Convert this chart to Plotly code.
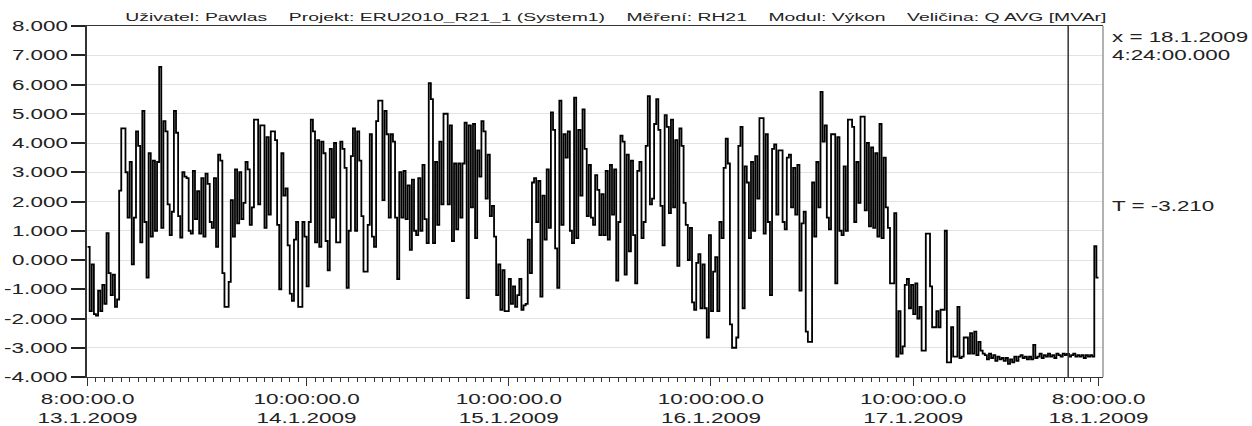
import pandas as pd
import plotly.graph_objects as go

# Q AVG [MVAr], 15-minute averages, one list per calendar day
q_13jan = [  # 08:00 - 23:45
    0.45, -1.75, -0.15, -1.85, -1.9, -1.05, -1.75, -0.85, -1.5, 0.92,
    -0.45, -1.2, -0.5, -1.6, -1.35, 2.37, 4.5, 4.5, 3.0, 1.45,
    3.35, -0.15, 1.45, 4.4, 3.9, 0.6, 5.1, 1.3, -0.6, 3.65,
    0.8, 3.4, 1.0, 3.35, 6.6, 1.1, 4.75, 4.4, 1.9, 0.85,
    1.65, 5.1, 4.35, 1.5, 0.77, 3.0, 2.85, 2.8, 1.0, 0.9,
    3.05, 1.4, 2.35, 0.9, 2.8, 0.8, 2.95, 2.6, 1.3, 1.1,
    2.8, 0.45, 3.6, 3.4,
]
q_14jan = [
    -0.45, -1.6, -1.6, -0.75, 2.05, 0.8, 3.1, 1.25, 3.0, 1.4,
    1.95, 3.35, 3.1, 1.2, 1.8, 4.8, 4.8, 1.9, 4.6, 4.6,
    1.1, 4.2, 1.55, 4.4, 4.4, 4.1, 1.2, -1.0, 3.65, 2.2,
    2.45, 0.5, -1.15, -1.4, 0.7, 1.3, -1.6, -1.6, 1.3, 0.8,
    -0.9, 1.3, 4.8, 4.4, 0.6, 4.1, 0.45, 4.05, 3.65, 0.65,
    -0.35, 3.8, 1.45, 4.0, 0.6, 0.6, 4.05, 3.8, 3.15, -0.95,
    1.0, 3.55, 4.5, 1.0, 4.4, 3.4, 1.5, -0.4, -0.4, 1.2,
    4.3, 0.8, 0.45, 4.75, 5.45, 5.45, 2.05, 5.1, 4.3, 1.45,
    4.3, 4.05, 1.45, -0.65, 3.0, 1.45, 3.05, 1.4, 2.55, 0.35,
    2.75, 1.0, 0.85, 2.8, 1.0, 3.25,
]
q_15jan = [
    1.4, 0.58, 6.05, 5.5, 0.58, 3.35, 1.2, 4.05, 1.9, 5.0,
    5.0, 1.9, 4.6, 0.65, 3.3, 1.05, 3.3, 1.45, 3.3, 4.7,
    -1.3, 4.6, 1.8, 4.65, 0.75, 3.75, 2.85, 4.75, 4.4, 2.1,
    3.6, 1.5, 1.85, 0.8, -1.2, -0.15, -1.7, -0.35, -1.75, -1.75,
    -0.65, -1.5, -0.9, -1.6, -1.2, -0.65, -1.7, -1.55, -1.5, 0.7,
    -0.45, 2.65, 2.8, 1.3, 2.7, -1.25, 2.2, 0.7, 3.1, 1.1,
    5.05, 4.45, 0.4, -0.95, 5.45, 1.2, 4.3, 3.5, 4.4, 1.0,
    0.58, 5.55, 0.75, 4.45, 2.2, 5.15, 3.8, 1.5, 3.25, 1.45,
    1.2, 2.9, 2.4, 0.85, 2.25, 0.85, 3.05, 0.7, 3.25, 1.55,
    3.1, -0.7, 1.3, 4.25, 4.05, -0.5,
]
q_16jan = [
    3.6, 0.3, 3.4, 0.85, -0.8, 3.05, 3.35, 0.75, 1.3, 3.9,
    5.6, 1.9, 2.1, 4.65, 5.5, 4.45, 1.85, 0.5, 4.95, 4.55,
    1.6, 4.8, 1.8, 4.1, -0.2, 4.5, 3.9, 1.95, 1.2, 0.0,
    1.1, -1.45, -1.7, -0.1, 0.2, -1.65, -0.15, -1.65, -2.65, 0.85,
    -1.75, -0.4, 0.1, -1.75, 1.3, 0.75, 3.15, 4.15, 3.3, -2.2,
    -3.0, -3.0, -2.65, 3.9, 4.55, -1.65, 3.2, 2.65, 0.75, 3.35,
    1.0, 3.55, 2.1, 4.85, 4.85, 0.9, 4.3, 1.3, -1.2, 3.8,
    3.95, 1.55, 3.75, 3.75, 1.3, 1.05, 3.5, 3.6, 1.8, 3.15,
    1.55, 3.25, -1.05, 1.25, 1.65, -2.45, -2.8, -2.8, 2.65, 0.8,
    3.35, 1.8, 5.75, 4.05, 4.6, 1.45,
]
q_17jan = [
    1.05, 4.3, 4.3, -0.8, 4.2, 1.0, 0.85, 3.2, 1.0, 4.8,
    4.8, 4.55, 1.3, 3.35, 1.95, 4.9, 4.9, 1.7, 4.0, 1.15,
    3.85, 1.1, 3.65, 0.8, 4.65, 0.75, 3.5, 1.8, 1.1, -0.8,
    -0.8, 1.6, -3.3, -1.75, -3.2, -2.95, -0.85, -0.65, -1.65, -0.85,
    -1.85, -0.8, -2.0, -1.6, -3.1, -3.1, 0.9, 0.9, -0.9, -2.3,
    -2.3, -1.75, -2.3, -1.7, -1.7, 1.0, -3.5, -3.5, -2.3, -3.3,
    -3.3, -1.6, -3.35, -3.3, -2.65, -2.65, -3.2, -2.5, -3.2, -2.45,
    -3.25, -2.8, -3.1, -3.2, -3.25, -3.4, -3.2, -3.35, -3.25, -3.45,
    -3.3, -3.4, -3.35, -3.45, -3.35, -3.55, -3.4, -3.5, -3.3, -3.45,
    -3.3, -3.25, -3.35, -3.3, -3.4, -3.3,
]
q_18jan = [  # 00:00 - 08:00
    -3.4, -2.9, -3.35, -3.3, -3.2, -3.35, -3.25, -3.3, -3.2, -3.3,
    -3.25, -3.35, -3.2, -3.25, -3.3, -3.2, -3.25, -3.21, -3.3, -3.25,
    -3.2, -3.3, -3.25, -3.3, -3.25, -3.35, -3.25, -3.3, -3.25, -3.3,
    0.47, -0.6, -0.6,
]

series_start = pd.Timestamp("2009-01-13 08:00")
cursor_time = pd.Timestamp("2009-01-18 04:24")

y_tick_values = [8, 7, 6, 5, 4, 3, 2, 1, 0, -1, -2, -3, -4]
y_tick_labels = ["8.000", "7.000", "6.000", "5.000", "4.000", "3.000", "2.000",
                 "1.000", "0.000", "-1.000", "-2.000", "-3.000", "-4.000"]
x_tick_times = ["2009-01-13 08:00", "2009-01-14 10:00", "2009-01-15 10:00",
                "2009-01-16 10:00", "2009-01-17 10:00", "2009-01-18 08:00"]
x_tick_labels = ["8:00:00.0<br>13.1.2009", "10:00:00.0<br>14.1.2009",
                 "10:00:00.0<br>15.1.2009", "10:00:00.0<br>16.1.2009",
                 "10:00:00.0<br>17.1.2009", "8:00:00.0<br>18.1.2009"]

header_parts = ["Uživatel: Pawlas", "Projekt: ERU2010_R21_1 (System1)", "Měření: RH21",
                "Modul: Výkon", "Veličina: Q AVG [MVAr]"]

q = q_13jan + q_14jan + q_15jan + q_16jan + q_17jan + q_18jan
step = pd.Timedelta("15min")
times = pd.date_range(series_start, periods=len(q), freq=step)

# value under the cursor
cursor_idx = int((cursor_time - series_start) / step)
cursor_value = q[cursor_idx]
cursor_text = (f"x = {cursor_time.day}.{cursor_time.month}.{cursor_time.year}<br>"
               f"{cursor_time.hour}:{cursor_time.minute:02d}:{cursor_time.second:02d}.000")
value_text = f"T = {cursor_value:.3f}"

hourly = pd.date_range(series_start, times[-1], freq="h")

fig = go.Figure(
    go.Scatter(
        x=times, y=q, mode="lines",
        line=dict(color="#000000", width=1.8, shape="hv"),
        hoverinfo="skip",
    )
)

fig.update_layout(
    width=1252, height=426,
    margin=dict(l=87, r=149, t=26, b=49, autoexpand=False),
    paper_bgcolor="white", plot_bgcolor="white",
    showlegend=False,
    font=dict(family="Liberation Sans, Arial, sans-serif", size=14, color="#222222"),
)

fig.update_xaxes(
    type="date", automargin=False,
    range=["2009-01-13 07:56", "2009-01-18 08:32"],
    tickmode="array", tickvals=x_tick_times, ticktext=x_tick_labels,
    tickfont=dict(size=15),
    ticks="outside", ticklen=8, tickwidth=1, tickcolor="#333333",
    showgrid=False, zeroline=False,
    showline=True, linecolor="#333333", linewidth=1, mirror=True,
    minor=dict(tickvals=list(hourly), ticks="outside", ticklen=4,
               tickwidth=1, tickcolor="#333333", showgrid=False),
)

# y tick marks come from the axis; their numbers are written beside them as annotations
fig.update_yaxes(
    automargin=False,
    range=[-4, 8],
    tickmode="array", tickvals=y_tick_values, showticklabels=False,
    ticks="outside", ticklen=14, tickwidth=1.5, tickcolor="#222222",
    showgrid=True, gridcolor="#e2e2e2", gridwidth=1, zeroline=False,
    showline=True, linecolor="#333333", linewidth=1.5,
)
for v, lab in zip(y_tick_values, y_tick_labels):
    fig.add_annotation(
        name="ylabel", text=lab, xref="paper", yref="y", x=-0.0167, y=v,
        xanchor="right", yanchor="middle", showarrow=False,
        font=dict(size=14, color="#222222"),
    )

# right frame edge and the measurement cursor
fig.add_shape(type="line", xref="paper", yref="paper", x0=1, x1=1, y0=0, y1=1,
              line=dict(color="#999999", width=1.5))
fig.add_shape(type="line", xref="x", yref="paper", x0=cursor_time, x1=cursor_time,
              y0=0, y1=1, line=dict(color="#333333", width=1.5))

fig.add_annotation(
    name="header", text="\u00a0\u00a0\u00a0\u00a0".join(header_parts),
    xref="paper", yref="paper", x=0.521, y=1.027,
    xanchor="center", yanchor="middle", showarrow=False,
    font=dict(size=11, color="#222222"),
)
fig.add_annotation(
    name="cursor", text=cursor_text, align="left",
    xref="paper", yref="paper", x=1.007, y=0.944,
    xanchor="left", yanchor="middle", showarrow=False,
    font=dict(size=14, color="#222222"),
)
fig.add_annotation(
    name="value", text=value_text,
    xref="paper", yref="paper", x=1.007, y=0.487,
    xanchor="left", yanchor="middle", showarrow=False,
    font=dict(size=14, color="#222222"),
)

# the recorder prints its lettering wide: stretch text horizontally about its anchor
widen_js = """
var gd = document.getElementById('{plot_id}');
function widen(t, origin, s, targetW) {
  var b = t.getBBox();
  if (!b.width) { return; }
  if (targetW) { s = targetW / b.width; }
  var ox = origin === 'end' ? b.x + b.width : (origin === 'middle' ? b.x + b.width / 2 : b.x);
  var base = t.getAttribute('transform') || '';
  t.setAttribute('transform', base + ' translate(' + ox + ',0) scale(' + s + ',1) translate(' + (-ox) + ',0)');
}
gd.querySelectorAll('.xtick > text').forEach(function (t) { widen(t, 'middle', 1.5); });
gd.querySelectorAll('g.annotation').forEach(function (a) {
  var ann = gd.layout.annotations[+a.getAttribute('data-index')];
  var t = a.querySelector('text.annotation-text');
  if (!t) { return; }
  if (ann.name === 'header') { widen(t, 'middle', 1, 982); return; }
  var o = ann.xanchor === 'left' ? 'start' : (ann.xanchor === 'right' ? 'end' : 'middle');
  widen(t, o, 1.6);
});
"""

fig.write_html("out.html", config={"displayModeBar": False}, post_script=widen_js)
